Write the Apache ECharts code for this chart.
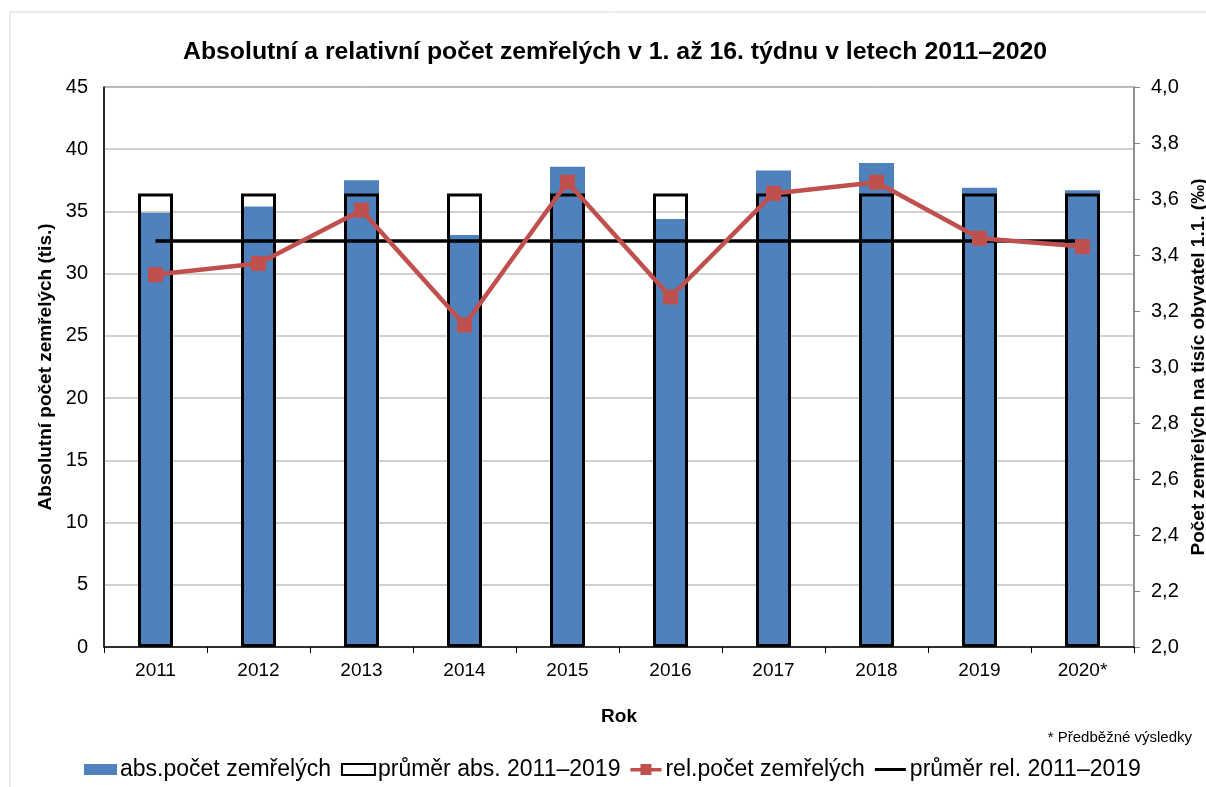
<!DOCTYPE html>
<html>
<head>
<meta charset="utf-8">
<style>
  html, body { margin: 0; padding: 0; background: #fff; }
  #main { width: 1206px; height: 787px; }
</style>
<script src="https://cdn.jsdelivr.net/npm/echarts@6/dist/echarts.min.js"></script>
</head>
<body>
<div id="main"></div>
<script>
// data
var years = ["2011", "2012", "2013", "2014", "2015", "2016", "2017", "2018", "2019", "2020*"];
var absCount = [34.9, 35.4, 37.5, 33.1, 38.6, 34.4, 38.3, 38.9, 36.9, 36.7];
var absAvg = [36.45, 36.45, 36.45, 36.45, 36.45, 36.45, 36.45, 36.45, 36.45, 36.45];
var relCount = [3.33, 3.37, 3.56, 3.15, 3.66, 3.25, 3.62, 3.66, 3.46, 3.43];
var relAvg = [3.45, 3.45, 3.45, 3.45, 3.45, 3.45, 3.45, 3.45, 3.45, 3.45];

var font = "Liberation Sans, Arial, sans-serif";

// legend icons: thin black line, red line with a square in the middle
var iconBlackLine = "path://M0,0 L0.01,0 Z M0,4 L31,4 L31,7 L0,7 Z M0,11 L0.01,11 Z";
var iconRedLine = "path://M0,4 L10,4 L10,0 L21,0 L21,4 L31,4 L31,7.5 L21,7.5 L21,11 L10,11 L10,7.5 L0,7.5 Z";

var myChart = echarts.init(document.getElementById("main"));

var option = {
  animation: false,
  textStyle: { fontFamily: font },
  title: {
    text: "Absolutní a relativní počet zemřelých v 1. až 16. týdnu v letech 2011–2020",
    left: 178,
    top: 35,
    textStyle: { fontSize: 24.8, fontWeight: "bold", color: "#000", fontFamily: font }
  },
  legend: {
    bottom: 1,
    left: 79,
    itemWidth: 33,
    itemHeight: 11,
    itemGap: 10,
    textStyle: { fontSize: 23, color: "#000", fontFamily: font, padding: [0, 0, 0, -2] },
    data: [
      { name: "abs.počet zemřelých", icon: "rect" },
      { name: "průměr abs. 2011–2019", icon: "rect" },
      { name: "rel.počet zemřelých", icon: iconRedLine },
      { name: "průměr rel. 2011–2019", icon: iconBlackLine }
    ]
  },
  grid: {
    left: 104,
    right: 72,
    top: 87,
    bottom: 140,
    containLabel: false,
    outerBoundsMode: "none",
    show: true,
    borderColor: "#595959",
    borderWidth: 1
  },
  graphic: [
    {
      type: "rect",
      shape: { x: 10, y: 12, width: 1220, height: 800 },
      style: { fill: "none", stroke: "#d9d9d9", lineWidth: 1 }
    },
    {
      type: "text",
      right: 14,
      top: 730,
      style: { text: "* Předběžné výsledky", fontSize: 15, fill: "#000", fontFamily: font }
    }
  ],
  xAxis: {
    type: "category",
    data: years,
    name: "Rok",
    nameLocation: "middle",
    nameGap: 60,
    nameTextStyle: { fontSize: 19, fontWeight: "bold", color: "#000" },
    axisLine: { lineStyle: { color: "#000", width: 1.5 } },
    axisTick: { show: true, length: 6, lineStyle: { color: "#000" } },
    axisLabel: { fontSize: 19, color: "#000", margin: 14 }
  },
  yAxis: [
    {
      type: "value",
      min: 0,
      max: 45,
      interval: 5,
      name: "Absolutní počet zemřelých (tis.)",
      nameLocation: "middle",
      nameRotate: 90,
      nameGap: 44,
      nameTextStyle: { fontSize: 19, fontWeight: "bold", color: "#000" },
      axisLine: { show: true, lineStyle: { color: "#000", width: 1.5 } },
      axisTick: { show: false },
      axisLabel: { fontSize: 20, color: "#000", margin: 16 },
      splitLine: { lineStyle: { color: "#c0c0c0", width: 1.5 } }
    },
    {
      type: "value",
      min: 2,
      max: 4,
      interval: 0.2,
      name: "Počet zemřelých na tisíc obyvatel 1.1. (‰)",
      nameLocation: "middle",
      nameRotate: 90,
      nameGap: 53,
      nameTextStyle: { fontSize: 19, fontWeight: "bold", color: "#000" },
      axisLine: { show: true, lineStyle: { color: "#868686", width: 1.5 } },
      axisTick: { show: true, length: 6, lineStyle: { color: "#868686" } },
      axisLabel: {
        fontSize: 20,
        color: "#000",
        margin: 17,
        formatter: function (v) { return v.toFixed(1).replace(".", ","); }
      },
      splitLine: { show: false }
    }
  ],
  series: [
    {
      name: "abs.počet zemřelých",
      type: "bar",
      data: absCount,
      barWidth: 35,
      barGap: "-100%",
      itemStyle: { color: "#4F81BD" },
      z: 2
    },
    {
      name: "průměr abs. 2011–2019",
      type: "bar",
      data: absAvg,
      barWidth: 35,
      barGap: "-100%",
      itemStyle: { color: "rgba(255,255,255,0)", borderColor: "#000", borderWidth: 3 },
      z: 3
    },
    {
      name: "průměr rel. 2011–2019",
      type: "line",
      yAxisIndex: 1,
      data: relAvg,
      symbol: "none",
      lineStyle: { color: "#000", width: 3.5 },
      itemStyle: { color: "#000" },
      z: 4
    },
    {
      name: "rel.počet zemřelých",
      type: "line",
      yAxisIndex: 1,
      data: relCount,
      symbol: "rect",
      symbolSize: 15,
      lineStyle: { color: "#C0504D", width: 4.5 },
      itemStyle: { color: "#C0504D" },
      z: 5
    }
  ]
};

myChart.setOption(option);
</script>
</body>
</html>
